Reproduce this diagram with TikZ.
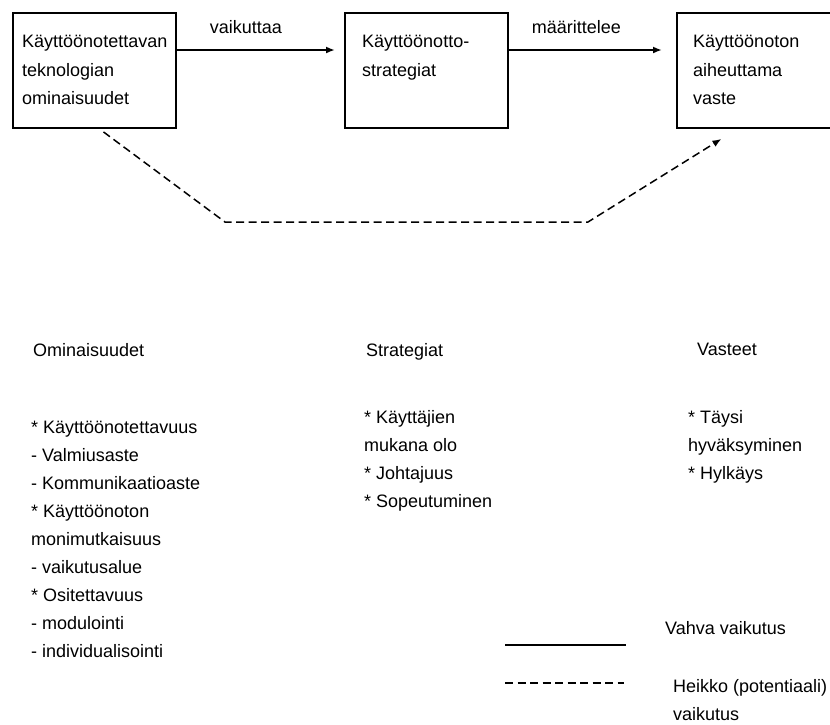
\documentclass[tikz,border=0pt]{standalone}
\usepackage{fontspec}
\setmainfont{Liberation Sans}
\usetikzlibrary{arrows.meta}

\begin{document}
\begin{tikzpicture}[x=1pt,y=-1pt,>={Latex[length=9pt,width=7pt]},
  font=\fontsize{18}{28.5}\selectfont,
  laatikko/.style={draw,line width=1.9pt,minimum width=163pt,minimum height=115pt,
    inner sep=0pt,anchor=north west},
  teksti/.style={align=left,inner sep=0pt,anchor=north west},
  lista/.style={teksti,font=\fontsize{18}{28}\selectfont},
  vahva/.style={line width=1.9pt},
  heikko/.style={line width=1.5pt,dash pattern=on 8pt off 4.5pt}]
  \useasboundingbox (0,0) rectangle (830,724);

  % ylarivin laatikot
  \node[laatikko] (tekno) at (12,12) {};
  \node[laatikko] (strat) at (344,12) {};
  \node[laatikko] (vaste) at (676,12) {};
  \node[teksti] (tekno_t) at (22,35) {Käyttöönotettavan\\teknologian\\ominaisuudet};
  \node[teksti] (strat_t) at (362,35) {Käyttöönotto-\\strategiat};
  \node[teksti] (vaste_t) at (693,35) {Käyttöönoton\\aiheuttama\\vaste};

  \draw[vahva,->] ([yshift=-38pt]tekno.north east) -- ([yshift=-38pt,xshift=-9pt]strat.north west)
    node[midway,above=12pt,xshift=-10pt] {vaikuttaa};
  \draw[vahva,->] ([yshift=-38pt]strat.north east) -- ([yshift=-38pt,xshift=-14pt]vaste.north west)
    node[midway,above=12pt,xshift=-9pt] {määrittelee};

  \coordinate (mutka1) at (225,222);
  \coordinate (mutka2) at (588,222);
  \draw[heikko,->] ([xshift=9pt,yshift=-3pt]tekno.south) -- (mutka1) -- (mutka2)
    -- ([xshift=-37pt,yshift=-10pt]vaste.south);

  % sarakkeet
  \node[teksti] (omin) at (33,343) {Ominaisuudet};
  \node[teksti] (strg) at (366,343) {Strategiat};
  \node[teksti] (vast) at (697,343) {Vasteet};
  \node[lista] (omin_l) at (31,421) {* Käyttöönotettavuus\\- Valmiusaste\\- Kommunikaatioaste\\
    * Käyttöönoton\\monimutkaisuus\\- vaikutusalue\\* Ositettavuus\\- modulointi\\- individualisointi};
  \node[lista] (strg_l) at (364,410) {* Käyttäjien\\mukana olo\\* Johtajuus\\* Sopeutuminen};
  \node[lista] (vast_l) at (688,410) {* Täysi\\hyväksyminen\\* Hylkäys};

  % selite
  \coordinate (sel1a) at (505,645);
  \coordinate (sel1b) at (626,645);
  \coordinate (sel2a) at (505,683);
  \coordinate (sel2b) at (624,683);
  \draw[vahva] (sel1a) -- (sel1b);
  \draw[heikko] (sel2a) -- (sel2b);
  \node[teksti] (vahva_t) at (665,621) {Vahva vaikutus};
  \node[lista] (heikko_t) at (673,679) {Heikko (potentiaali)\\vaikutus};
\end{tikzpicture}
\end{document}
